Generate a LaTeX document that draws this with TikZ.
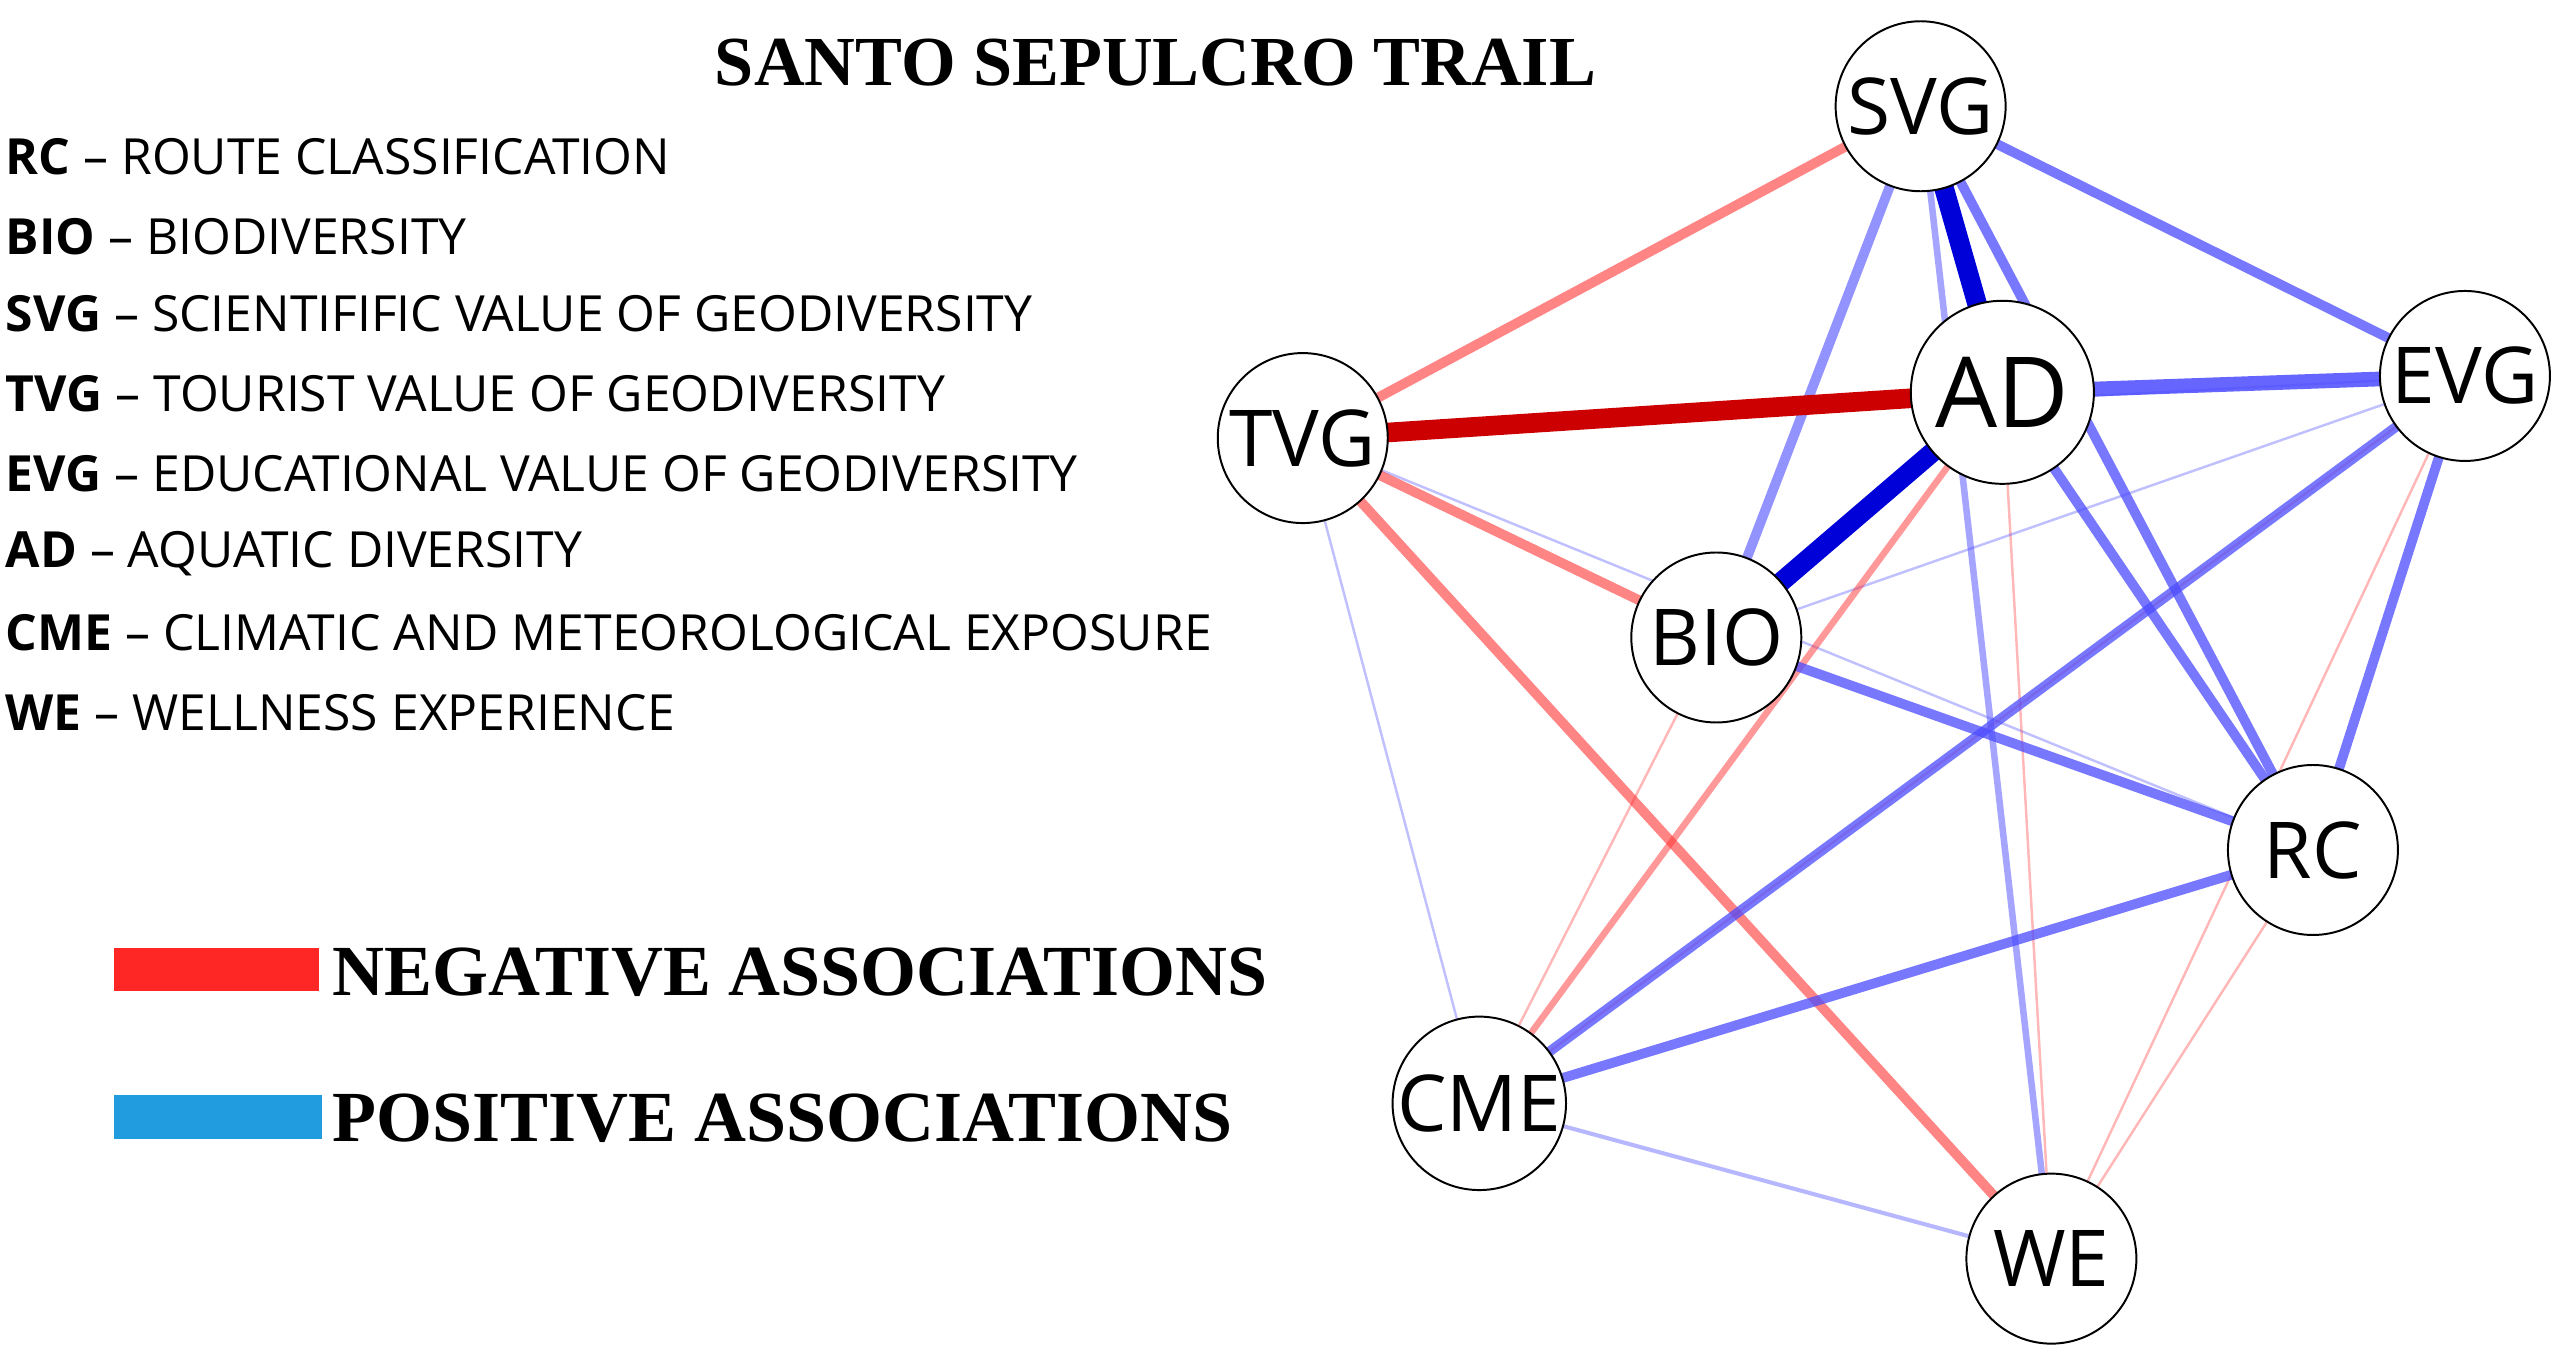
\documentclass[tikz,border=0pt]{standalone}
\usepackage{fontspec}
\setmainfont{Open Sans}
\newfontfamily\tms{Liberation Serif}
\begin{document}
\begin{tikzpicture}[x=1pt,y=-1pt,
  nd/.style={circle,draw=black,line width=1.2pt,fill=white,minimum size=104pt,inner sep=0pt,font=\fontsize{48}{52}\selectfont},
  ndb/.style={nd,minimum size=112pt,font=\fontsize{60}{64}\selectfont},
  posedge/.style={draw=blue!70!white,opacity=0.75},
  negedge/.style={draw=red!80!white,opacity=0.6},
  lt/.style={line width=1.5pt,opacity=0.35},
  md/.style={line width=6pt},
  tk/.style={line width=12pt,opacity=1},
  lg/.style={anchor=west,font=\fontsize{30.5}{34}\selectfont}]
\useasboundingbox (0,0) rectangle (1568,838);
\fill[white] (0,0) rectangle (1568,838);
\coordinate (svgp) at (1175,65);
\coordinate (tvgp) at (797,268);
\coordinate (adp) at (1225,240);
\coordinate (evgp) at (1508,230);
\coordinate (biop) at (1050,390);
\coordinate (rcp) at (1415,520);
\coordinate (cmep) at (905,675);
\coordinate (wep) at (1255,770);
% edges
\draw[posedge,lt] (tvgp) -- (cmep);
\draw[posedge,lt] (tvgp) -- (evgp);
\draw[posedge,lt] (tvgp) -- (rcp);
\draw[negedge,lt] (adp) -- (wep);
\draw[negedge,lt] (evgp) -- (wep);
\draw[negedge,lt] (rcp) -- (wep);
\draw[negedge,lt] (biop) -- (cmep);
\draw[negedge,lt] (evgp) -- (cmep);
\draw[posedge,lt] (biop) -- (evgp);
\draw[posedge,line width=2.5pt,opacity=0.4] (cmep) -- (wep);
\draw[posedge,line width=4pt,opacity=0.5] (svgp) -- (wep);
\draw[negedge,line width=4pt,opacity=0.5] (adp) -- (cmep);
\draw[negedge,md] (tvgp) -- (svgp);
\draw[negedge,md] (tvgp) -- (biop);
\draw[negedge,md] (tvgp) -- (wep);
\draw[posedge,md,opacity=0.6] (svgp) -- (biop);
\draw[posedge,md] (svgp) -- (evgp);
\draw[posedge,md] (svgp) -- (rcp);
\draw[posedge,md] (adp) -- (rcp);
\draw[posedge,md] (evgp) -- (rcp);
\draw[posedge,md] (biop) -- (rcp);
\draw[posedge,md] (cmep) -- (evgp);
\draw[posedge,md] (cmep) -- (rcp);
\draw[posedge,line width=9pt,opacity=0.85] (adp) -- (evgp);
\draw[draw=red!80!black,tk] (tvgp) -- (adp);
\draw[draw=blue!85!black,tk] (svgp) -- (adp);
\draw[draw=blue!85!black,tk] (adp) -- (biop);
% nodes
\node[nd] (svg) at (svgp) {SVG};
\node[nd] (tvg) at (tvgp) {TVG};
\node[ndb] (ad) at (adp) {AD};
\node[nd] (evg) at (evgp) {EVG};
\node[nd] (bio) at (biop) {BIO};
\node[nd] (rc) at (rcp) {RC};
\node[nd] (cme) at (cmep) {CME};
\node[nd] (we) at (wep) {WE};
% title and legend
\node[font=\tms\bfseries\fontsize{43}{47}\selectfont] (title) at (707,38) {SANTO SEPULCRO TRAIL};
\node[lg] (l1) at (0,96) {\textbf{RC} – ROUTE CLASSIFICATION};
\node[lg] (l2) at (0,145) {\textbf{BIO} – BIODIVERSITY};
\node[lg] (l3) at (0,192) {\textbf{SVG} – SCIENTIFIFIC VALUE OF GEODIVERSITY};
\node[lg] (l4) at (0,241) {\textbf{TVG} – TOURIST VALUE OF GEODIVERSITY};
\node[lg] (l5) at (0,290) {\textbf{EVG} – EDUCATIONAL VALUE OF GEODIVERSITY};
\node[lg] (l6) at (0,339) {\textbf{AD} – AQUATIC DIVERSITY};
\node[lg] (l7) at (0,387) {\textbf{CME} – CLIMATIC AND METEOROLOGICAL EXPOSURE};
\node[lg] (l8) at (0,436) {\textbf{WE} – WELLNESS EXPERIENCE};
\fill[red!85!white] (70,580) rectangle (195,606);
\fill[cyan!80!blue!90!white] (70,670) rectangle (197,697);
\node[anchor=west,font=\tms\bfseries\fontsize{44}{48}\selectfont] (neglab) at (200,595) {NEGATIVE ASSOCIATIONS};
\node[anchor=west,font=\tms\bfseries\fontsize{44}{48}\selectfont] (poslab) at (200,684) {POSITIVE ASSOCIATIONS};
\end{tikzpicture}
\end{document}
